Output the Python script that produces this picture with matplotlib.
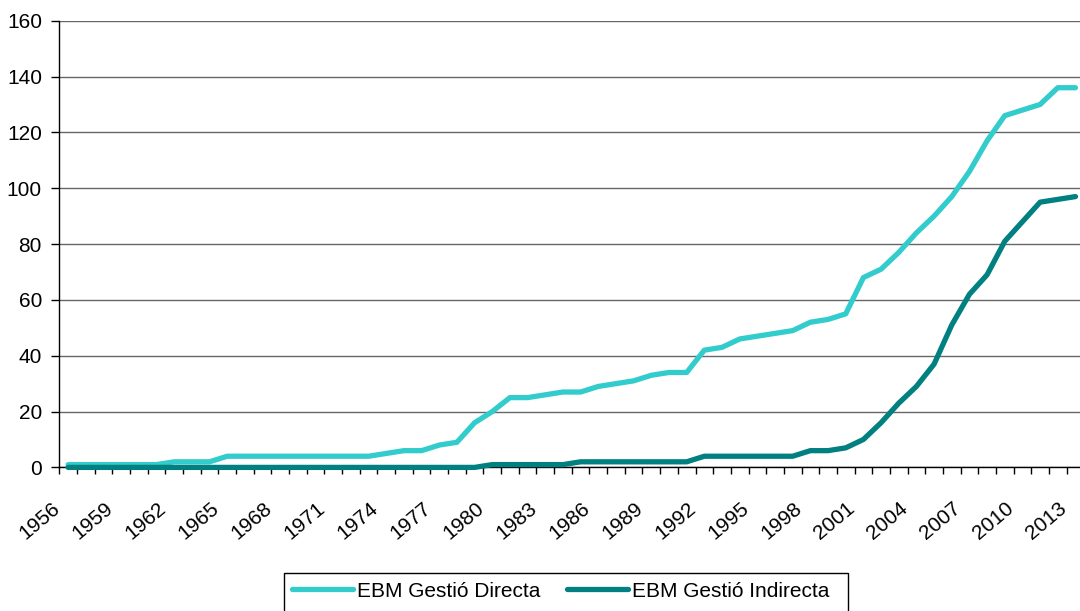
import matplotlib
matplotlib.use("Agg")
import matplotlib.pyplot as plt
from matplotlib.patches import Rectangle
from matplotlib.transforms import ScaledTranslation

# EBM per year
years = list(range(1956, 2014))
directa = [1, 1, 1, 1, 1, 1, 2, 2, 2, 4, 4, 4, 4, 4, 4, 4, 4, 4, 5,
           6, 6, 8, 9, 16, 20, 25, 25, 26, 27, 27, 29, 30, 31, 33, 34, 34,
           42, 43, 46, 47, 48, 49, 52, 53, 55, 68, 71, 77, 84, 90, 97, 106,
           117, 126, 128, 130, 136, 136]
indirecta = [0] * 24 + [1, 1, 1, 1, 1, 2, 2, 2, 2, 2, 2, 2, 4, 4, 4, 4, 4, 4,
                        6, 6, 7, 10, 16, 23, 29, 37, 51, 62, 69, 81, 88, 95, 96, 97]
tick_years = years[::3]
labels = ["EBM Gestió Directa", "EBM Gestió Indirecta"]
colors = ["#33CCCC", "#008080"]

plt.rcParams['font.family'] = ['Liberation Sans', 'DejaVu Sans']

W, H = 1080, 611
fig = plt.figure(figsize=(W / 100, H / 100), dpi=100)
ax = fig.add_axes([59.3 / W, 143.6 / H, 1025 / W, 446.7 / H])

x = list(range(len(years)))
for vals, col, lab in zip([directa, indirecta], colors, labels):
    ax.plot(x, vals, color=col, lw=3.8, label=lab, zorder=3,
            solid_capstyle='round', solid_joinstyle='round', clip_on=False)

ax.set_xlim(-0.5, len(years) - 0.5)
ax.set_ylim(0, 160)
ax.set_yticks(range(0, 161, 20))
ax.yaxis.grid(True, color='#666666', lw=1)
ax.set_axisbelow(True)
for s in ['top', 'right']:
    ax.spines[s].set_visible(False)
for s in ['left', 'bottom']:
    ax.spines[s].set_color('black')
    ax.spines[s].set_linewidth(1)

ax.tick_params(axis='y', length=5.5, width=1, labelsize=15, pad=7, colors='black')

# category boundaries get the tick marks, labels sit at the category centres
ax.set_xticks([i - 0.5 for i in range(len(years) + 1)], minor=True)
ax.set_xticks([years.index(y) for y in tick_years])
ax.set_xticklabels([str(y) for y in tick_years], rotation=40, ha='right',
                   va='center', rotation_mode='anchor')
ax.tick_params(axis='x', which='minor', length=4.8, width=1, color='black')
ax.tick_params(axis='x', which='major', length=0, labelsize=15, pad=27.5)
shift = ScaledTranslation(-11 / 100, 0, fig.dpi_scale_trans)
for lbl in ax.get_xticklabels():
    lbl.set_transform(lbl.get_transform() + shift)

handles, _ = ax.get_legend_handles_labels()
leg = fig.legend(handles, labels, loc='upper left',
                 bbox_to_anchor=(284 / W, 1 - 573.3 / H), ncol=2,
                 fontsize=15, frameon=False, handlelength=2.9,
                 handletextpad=0.2, columnspacing=1.3, borderpad=0.4,
                 borderaxespad=0)
# legend box runs past the bottom edge of the picture
fig.patches.append(Rectangle((284 / W, -0.02), (848 - 284) / W, 0.02 + (H - 573.3) / H,
                             transform=fig.transFigure, fill=False,
                             edgecolor='black', lw=1))

fig.savefig("out.png", dpi=100)
